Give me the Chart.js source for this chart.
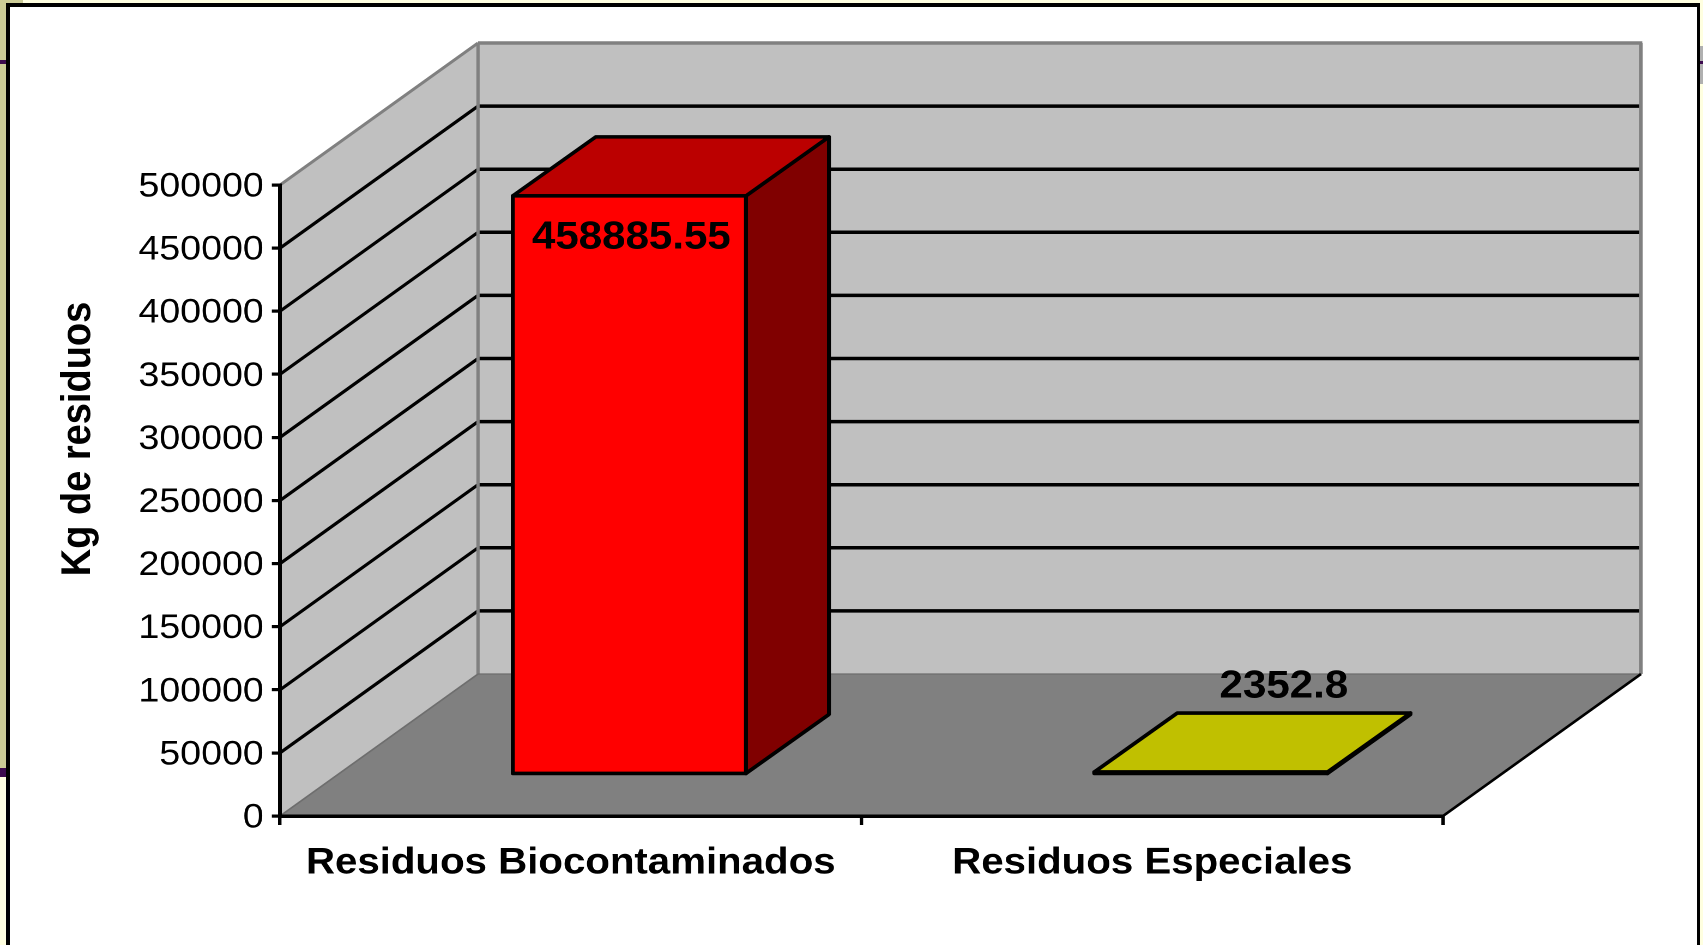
<!DOCTYPE html>
<html>
<head>
<meta charset="utf-8">
<title>Kg de residuos</title>
<script src="https://cdn.jsdelivr.net/npm/chart.js@4"></script>
<style>
  html, body { margin: 0; padding: 0; width: 1703px; height: 945px; overflow: hidden; background: #FFFFE0; }
  .b { position: absolute; }
  #c { position: absolute; left: 0; top: 0; transform-origin: 0 0; transform: scaleX(1.09027); }
</style>
</head>
<body>
<div class="b" style="left:0;top:0;width:23px;height:3px;background:#CBCB96"></div>
<div class="b" style="left:0;top:0;width:6px;height:768px;background:#CBCB96"></div>
<div class="b" style="left:0;top:60px;width:6px;height:4px;background:#3C0A4E"></div>
<div class="b" style="left:0;top:768px;width:6px;height:9px;background:#3C0A4E"></div>
<div class="b" style="left:1700px;top:46px;width:3px;height:38px;background:#B0B0B0"></div>
<div class="b" style="left:1700px;top:61px;width:3px;height:3px;background:#3C0A4E"></div>
<div class="b" style="left:6px;top:3px;width:1694px;height:942px;background:#000"></div>
<div class="b" style="left:10px;top:7px;width:1687px;height:938px;background:#fff"></div>
<canvas id="c" width="1562" height="945"></canvas>
<script>
const categories = ['Residuos Biocontaminados', 'Residuos Especiales'];
const residuos = [458885.55, 2352.8];
const valueLabels = ['458885.55', '2352.8'];
const yMax = 500000;
const yStep = 50000;
const yTitle = 'Kg de residuos';

const SX = 1703 / 1562;
const FONT = '"Liberation Sans", Arial, sans-serif';
const WALL_DX = 198 / SX, WALL_DY = -142;
const BAR_DX = 58.6 / SX, BAR_DY = -41;
const DEPTH_DX = 83 / SX, DEPTH_DY = -59;

function poly(ctx, pts, fill, stroke, lw) {
  ctx.beginPath();
  pts.forEach((p, i) => i ? ctx.lineTo(p[0], p[1]) : ctx.moveTo(p[0], p[1]));
  ctx.closePath();
  if (fill) { ctx.fillStyle = fill; ctx.fill(); }
  if (stroke) { ctx.strokeStyle = stroke; ctx.lineWidth = lw; ctx.lineJoin = 'round'; ctx.stroke(); }
}
function seg(ctx, x1, y1, x2, y2, c, lw) {
  ctx.beginPath(); ctx.moveTo(x1, y1); ctx.lineTo(x2, y2);
  ctx.strokeStyle = c; ctx.lineWidth = lw; ctx.stroke();
}

const shade = { '#FF0000': ['#BB0000', '#800000'], '#FFFF00': ['#C0C000', '#808000'] };

const box3d = {
  id: 'box3d',
  beforeDraw(chart) {
    const { ctx, chartArea: a, scales: { y } } = chart;
    const L = a.left, R = a.right, T = a.top, B = a.bottom;
    ctx.save();
    poly(ctx, [[L + WALL_DX, T + WALL_DY], [R + WALL_DX, T + WALL_DY], [R + WALL_DX, B + WALL_DY], [L + WALL_DX, B + WALL_DY]], '#C0C0C0');
    poly(ctx, [[L, T], [L + WALL_DX, T + WALL_DY], [L + WALL_DX, B + WALL_DY], [L, B]], '#C0C0C0');
    poly(ctx, [[L, B], [L + WALL_DX, B + WALL_DY], [R + WALL_DX, B + WALL_DY], [R, B]], '#808080');
    y.ticks.forEach(t => {
      if (t.value <= 0 || t.value >= yMax) return;
      const py = y.getPixelForValue(t.value);
      seg(ctx, L, py, L + WALL_DX, py + WALL_DY, '#000', 3.1);
      seg(ctx, L + WALL_DX + 1, py + WALL_DY, R + WALL_DX - 1, py + WALL_DY, '#000', 3.5);
    });
    seg(ctx, L + WALL_DX, T + WALL_DY, R + WALL_DX + 1.2, T + WALL_DY, '#808080', 3.5);
    seg(ctx, R + WALL_DX, T + WALL_DY, R + WALL_DX, B + WALL_DY, '#808080', 3.2);
    seg(ctx, L + WALL_DX, T + WALL_DY, L + WALL_DX, B + WALL_DY, '#808080', 3);
    seg(ctx, L, T, L + WALL_DX, T + WALL_DY, '#808080', 3);
    seg(ctx, L + WALL_DX, B + WALL_DY, R + WALL_DX, B + WALL_DY, '#6E6E6E', 1.2);
    seg(ctx, L, B, L + WALL_DX, B + WALL_DY, '#6E6E6E', 1.6);
    seg(ctx, R, B, R + WALL_DX, B + WALL_DY, '#000', 2.6);
    ctx.restore();
  },
  beforeDatasetDraw(chart, args) {
    const ctx = chart.ctx;
    ctx.save();
    ctx.translate(BAR_DX, BAR_DY);
    args.meta.data.forEach((bar, i) => {
      const l = bar.x - bar.width / 2, r = bar.x + bar.width / 2;
      const colors = shade[chart.data.datasets[0].backgroundColor[i]];
      poly(ctx, [[r, bar.y], [r + DEPTH_DX, bar.y + DEPTH_DY], [r + DEPTH_DX, bar.base + DEPTH_DY], [r, bar.base]], colors[1], '#000', 3.6);
      poly(ctx, [[l, bar.y], [l + DEPTH_DX, bar.y + DEPTH_DY], [r + DEPTH_DX, bar.y + DEPTH_DY], [r, bar.y]], colors[0], '#000', 3.6);
    });
  },
  afterDatasetDraw(chart, args) {
    const ctx = chart.ctx;
    args.meta.data.forEach(bar => {
      const l = bar.x - bar.width / 2, r = bar.x + bar.width / 2;
      poly(ctx, [[l, bar.y], [r, bar.y], [r, bar.base], [l, bar.base]], null, '#000', 3.6);
    });
    ctx.restore();
  },
  afterDatasetsDraw(chart) {
    const ctx = chart.ctx;
    const meta = chart.getDatasetMeta(0);
    ctx.save();
    ctx.fillStyle = '#000';
    ctx.textAlign = 'center';
    ctx.textBaseline = 'middle';
    ctx.font = 'bold 38.6px ' + FONT;
    const b0 = meta.data[0], b1 = meta.data[1];
    ctx.fillText(valueLabels[0], b0.x + BAR_DX + 2 / SX, b0.y + BAR_DY + 42);
    ctx.fillText(valueLabels[1], b1.x + BAR_DX + 73 / SX, b1.y + BAR_DY + DEPTH_DY - 26);
    ctx.translate(78.5 / SX, 439);
    ctx.rotate(-Math.PI / 2);
    ctx.font = 'bold 38px ' + FONT;
    ctx.fillText(yTitle, 0, 0);
    ctx.restore();
  }
};

new Chart(document.getElementById('c'), {
  type: 'bar',
  data: {
    labels: categories,
    datasets: [{
      label: yTitle,
      data: residuos,
      backgroundColor: ['#FF0000', '#FFFF00'],
      borderWidth: 0,
      barPercentage: 0.401,
      categoryPercentage: 1,
      clip: false
    }]
  },
  plugins: [box3d],
  options: {
    responsive: false,
    animation: false,
    devicePixelRatio: 2,
    layout: { padding: { left: 0, top: 185, right: 1562 - 1443 / SX, bottom: 0 } },
    plugins: { legend: { display: false }, title: { display: false }, tooltip: { enabled: false } },
    scales: {
      x: {
        type: 'category',
        afterFit(s) { s.height = 945 - 816; },
        border: { display: true, color: '#000', width: 3.5 },
        grid: { drawOnChartArea: false, drawTicks: true, tickLength: 9, color: '#000', lineWidth: 3.2, offset: true },
        ticks: { color: '#000', font: { family: FONT, size: 36.9, weight: 'bold' }, padding: 16, maxRotation: 0, minRotation: 0, autoSkip: false }
      },
      y: {
        min: 0, max: yMax,
        afterFit(s) { s.width = 280 / SX; },
        border: { display: true, color: '#000', width: 3.5 },
        grid: { drawOnChartArea: false, drawTicks: true, tickLength: 7.5, color: '#000', lineWidth: 3.2 },
        ticks: { stepSize: yStep, color: '#000', font: { family: FONT, size: 34.4, lineHeight: '4px' }, padding: 7.5, callback: v => ['', String(v)] }
      }
    }
  }
});
</script>
</body>
</html>
